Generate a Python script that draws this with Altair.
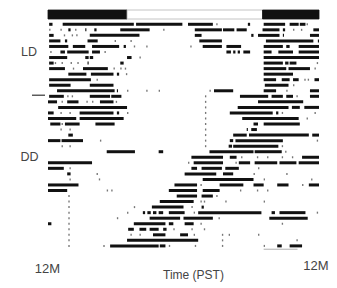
import altair as alt
import pandas as pd

# light schedule (hours): dark 0-7, light 7-19, dark 19-24
sched_start = [0, 7, 19]
sched_end = [7, 19, 24]
sched_phase = ["dark", "light", "dark"]

# activity bouts per day (hours since midnight); single value = isolated count
rows_ld = [
    [[0.1,0.4],[1.3,7.6],[7.8,11.9],[12.4,14.6],[14.9],[17.7,17.9],[19.1,21.0],[21.4,22.2],[22.3,22.8],[22.9]],
    [[0.1],[1.1],[1.8,2.0],[2.4],[3.3,3.4],[4.1,4.3],[6.4,9.0],[10.2],[13.0,15.4],[15.5,16.5],[16.7,17.6],[19.0,20.5],[20.8,21.0],[21.7],[22.4],[23.5,24]],
    [[0.1,0.5],[1.4],[2.1],[2.5],[3.7,8.1],[13.0,13.6],[18.0,18.2],[18.6,20.5],[20.8,20.9],[23.2,24]],
    [[0.1,1.1],[1.5,1.7],[3.5,4.4],[5.9],[7.3],[13.4,15.4],[19.3,23.5],[23.9,24]],
    [[0.1,1.8],[2.2,3.3],[3.9,6.3],[6.7,6.9],[7.6],[8.7],[12.6],[13.7,15.4],[15.8,17.1],[19.1,20.8],[21.1,21.4],[22.2,24]],
    [[0.2],[1.1,1.5],[1.7,3.6],[3.9,4.6],[5.0],[15.8,16.2],[16.4,16.6],[16.8,17.0],[17.3,17.9],[19.1,19.8],[20.4,21.7],[22.2,24]],
    [[0.1,1.7],[3.3,3.6],[3.7,4.0],[7.0,7.4],[8.1],[19.1,24]],
    [[0.1,0.5],[0.6],[1.2],[2.0],[2.6],[3.5,3.6],[6.4,6.7],[19.1,20.8],[21.0,21.3],[21.4,22.0],[23.8]],
    [[0.1,1.5],[2.2],[3.1,5.3],[5.8],[6.4],[6.8],[19.1,21.1],[21.3,23.2],[23.6]],
    [[1.8,3.4],[3.8,5.8],[6.1,6.3],[6.9],[19.1,21.7]],
    [[0.1,3.8],[4.3],[19.1,20.2],[20.7,21.4],[21.7,22.2],[22.7],[23.0],[23.6,24]],
    [[0.1,2.0],[3.7,5.8],[19.2,21.3],[21.7]],
    [[0.8,5.9],[6.1,6.2],[7.0],[8.7],[9.8],[14.3],[14.7,16.4],[19.1,20.2],[21.1],[23.2,24]],
]

rows_dd = [
    [[0.1,1.4],[1.7],[2.1],[3.7,5.5],[5.6,6.5],[13.9],[17.0,19.5],[19.8,20.8],[21.1,21.7],[22.0],[23.2,24]],
    [[0.0,0.8],[1.2],[1.7,2.7],[3.4],[3.9],[4.6,5.8],[6.0],[13.9],[18.6,22.6]],
    [[0.9,7.0],[13.9],[16.8,21.3],[21.6,22.3],[22.7,24]],
    [[0.0,0.5],[1.1],[1.9],[2.8,5.8],[6.1,6.3],[7.0],[13.9],[16.1,19.9],[20.2,20.4],[20.7],[23.6]],
    [[0.0,2.5],[2.8,6.7],[13.9],[17.2,22.2],[22.9]],
    [[0.2,1.1],[1.2],[1.5,2.8],[4.2,5.9],[13.9],[18.2,18.6],[19.1,22.3]],
    [[1.1],[1.9],[13.9],[17.6,17.7],[18.0,18.5]],
    [[1.8,2.2],[13.9],[16.4,17.6],[17.8,23.1],[23.4,24]],
    [[0.0,1.1],[1.2,3.1],[4.6],[13.9],[16.1,16.4],[16.6,20.8],[23.8]],
    [[1.2],[1.9],[13.9],[16.0,16.3],[16.4,20.4],[20.7]],
    [[5.2,7.7],[9.8,10.2],[14.3,18.2],[18.3,20.7],[21.0]],
    [[12.7,15.5],[16.1,16.7],[17.1],[18.5],[19.4],[20.7],[21.6],[22.5,24]],
    [[0.0,3.9],[12.4],[12.9,15.5],[16.6],[16.9,17.9],[18.3,20.3],[20.5,22.0],[22.2,24]],
    [[0.0,1.4],[1.9],[12.7,13.2],[13.6,15.4],[15.7,16.9],[18.6]],
    [[1.7,2.0],[4.3],[12.1,14.9],[15.5,16.4],[18.2],[21.1]],
    [[1.9],[4.5],[13.7,18.2],[19.1],[23.3]],
    [[0.0,2.7],[11.2,13.2],[13.5],[15.2,17.3],[18.2,19.1],[20.3,21.3],[22.5],[23.1,24]],
    [[0.0,1.7],[5.2],[5.6],[10.7,13.2],[13.7,15.2],[17.0],[18.5],[19.4]],
    [[1.8],[11.4,13.2],[13.6,14.6],[14.9]],
    [[1.8],[9.9,12.9],[13.5],[13.8],[15.7],[19.1]],
    [[1.8],[7.6],[9.2,12.0],[12.7],[13.6,13.8]],
    [[1.8],[7.0],[8.4,8.6],[8.8,9.1],[9.3,9.6],[9.8,10.2],[10.7,12.1],[12.9],[13.3,18.9],[19.8,20.1],[20.5,22.8],[23.8]],
    [[1.8],[6.1],[9.0,11.7],[12.0,14.6],[15.1],[19.6,23.0]],
    [[0.0,0.3],[1.8],[7.6,10.4],[10.7,11.1],[12.1,12.9],[13.5],[20.7]],
    [[1.8],[7.1,7.6],[8.1,8.7],[9.0,9.8],[10.2,10.5],[11.1],[12.7],[13.8]],
    [[1.8],[7.3],[8.1],[9.3,10.4],[11.7,12.4],[12.9],[15.4],[16.0],[18.6]],
    [[1.8],[7.0,13.3],[15.4],[22.0]],
    [[1.8],[4.9],[5.5,9.8],[9.9,10.4],[10.7],[13.0],[15.4],[19.1],[20.3,20.7],[21.4,22.5]],
]

trace_line = [19.1, 22.1]

bouts, dots = [], []
for i, row in enumerate(rows_ld + rows_dd):
    for seg in row:
        if len(seg) == 2:
            bouts.append({"row": i, "start": seg[0], "end": seg[1]})
        else:
            dots.append({"row": i, "start": seg[0], "end": seg[0] + 0.12})

df_b = pd.DataFrame(bouts)
df_d = pd.DataFrame(dots)
df_s = pd.DataFrame({"start": sched_start, "end": sched_end, "phase": sched_phase})
n_ld = len(rows_ld)

xs = alt.Scale(domain=[0, 24], nice=False, zero=False)
ys = alt.Scale(domain=[-2.58, 40.74], reverse=True, nice=False, zero=False)

sched = alt.Chart(df_s).mark_rect(strokeWidth=0.8).encode(
    x=alt.X("start:Q", scale=xs, axis=None),
    x2="end",
    y=alt.value(0),
    y2=alt.value(9),
    fill=alt.Fill("phase:N", scale=alt.Scale(domain=["dark", "light"], range=["#111111", "#ffffff"]), legend=None),
    stroke=alt.Stroke("phase:N", scale=alt.Scale(domain=["dark", "light"], range=["#111111", "#b5b5b5"]), legend=None),
)

bars = alt.Chart(df_b).mark_rule(strokeWidth=3, strokeCap="butt", color="#111111").encode(
    x=alt.X("start:Q", scale=xs, axis=None),
    x2="end",
    y=alt.Y("row:Q", scale=ys, axis=None),
)

pts = alt.Chart(df_d).mark_rule(strokeWidth=2, strokeCap="butt", color="#777777").encode(
    x=alt.X("start:Q", scale=xs, axis=None),
    x2="end",
    y=alt.Y("row:Q", scale=ys, axis=None),
)

trace = alt.Chart(pd.DataFrame({"start": [trace_line[0]], "end": [trace_line[1]], "row": [40.6]})).mark_rule(
    strokeWidth=0.8, color="#999999").encode(
    x=alt.X("start:Q", scale=xs, axis=None), x2="end", y=alt.Y("row:Q", scale=ys, axis=None))

marker = alt.Chart(pd.DataFrame({"row": [n_ld - 0.2]})).mark_rule(strokeWidth=1.2, color="#333333").encode(
    x=alt.value(-16), x2=alt.value(-3), y=alt.Y("row:Q", scale=ys, axis=None))

def label(txt, px, py, size):
    return alt.Chart(pd.DataFrame({"t": [txt]})).mark_text(
        font="Liberation Sans", fontSize=size, color="#444444", align="center", baseline="middle"
    ).encode(text="t:N", x=alt.value(px), y=alt.value(py))

texts = (
    label("LD", -19, 42, 12.5)
    + label("DD", -18.5, 147, 12.5)
    + label("12M", -0.5, 258.5, 13)
    + label("12M", 268, 256, 13)
    + label("Time (PST)", 145.5, 265, 12)
)

chart = (sched + bars + pts + trace + marker + texts).properties(
    width=271, height=240,
    padding={"left": 48, "top": 10, "right": 18, "bottom": 38},
    autosize=alt.AutoSizeParams(type="none"),
    background="white",
).configure_view(stroke=None)

chart.save("out.html", embed_options={"renderer": "svg", "actions": False})
